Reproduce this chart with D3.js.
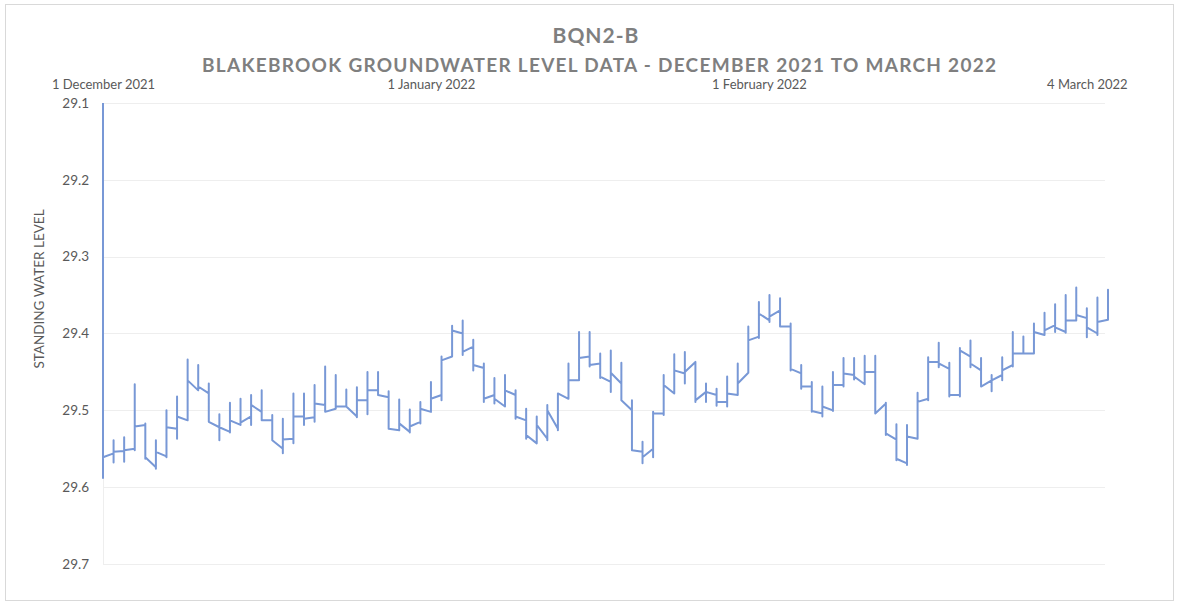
<!DOCTYPE html>
<html>
<head>
<meta charset="utf-8">
<script src="https://cdn.jsdelivr.net/npm/d3@7"></script>
<style>
  html, body { margin: 0; padding: 0; background: #ffffff; }
  svg { display: block; }
</style>
</head>
<body>
<svg id="chart" width="1185" height="607"></svg>
<script>
// ---------------- DATA ----------------
const titleMain = "BQN2-B";
const titleSub = "BLAKEBROOK GROUNDWATER LEVEL DATA - DECEMBER 2021 TO MARCH 2022";
const yAxisTitle = "STANDING WATER LEVEL";
const startDate = new Date(2021, 11, 1);   // 1 December 2021, one reading per day
const endDate = new Date(2022, 2, 6);

const dateTickValues = [new Date(2021, 11, 1), new Date(2022, 0, 1), new Date(2022, 1, 1), new Date(2022, 2, 4)];
const dateTickLabels = ["1 December 2021", "1 January 2022", "1 February 2022", "4 March 2022"];
const levelTicks = [29.1, 29.2, 29.3, 29.4, 29.5, 29.6, 29.7];

// per day: level arriving, spike high (smallest value), spike low (largest value), level leaving
const levelIn = [
  29.100, 29.556, 29.553, 29.550, 29.519, 29.574, 29.560, 29.524, 29.513, 29.474,
  29.478, 29.522, 29.528, 29.519, 29.508, 29.502, 29.513, 29.550, 29.537, 29.508,
  29.509, 29.493, 29.498, 29.495, 29.508, 29.487, 29.474, 29.483, 29.526, 29.528,
  29.515, 29.502, 29.480, 29.430, 29.400, 29.417, 29.445, 29.480, 29.495, 29.480,
  29.513, 29.543, 29.537, 29.524, 29.485, 29.461, 29.430, 29.439, 29.463, 29.465,
  29.500, 29.554, 29.550, 29.504, 29.478, 29.452, 29.437, 29.476, 29.480, 29.489,
  29.480, 29.451, 29.404, 29.383, 29.370, 29.391, 29.452, 29.469, 29.504, 29.500,
  29.467, 29.454, 29.466, 29.450, 29.491, 29.538, 29.569, 29.537, 29.485, 29.437,
  29.446, 29.480, 29.430, 29.448, 29.461, 29.454, 29.441, 29.426, 29.426, 29.402,
  29.389, 29.398, 29.383, 29.380, 29.400, 29.382
];
const spikeHigh = [
  29.100, 29.539, 29.535, 29.466, 29.517, 29.539, 29.500, 29.482, 29.434, 29.441,
  29.465, 29.505, 29.490, 29.485, 29.480, 29.474, 29.506, 29.511, 29.478, 29.478,
  29.467, 29.443, 29.454, 29.473, 29.470, 29.450, 29.450, 29.475, 29.486, 29.499,
  29.489, 29.463, 29.430, 29.390, 29.383, 29.408, 29.439, 29.458, 29.454, 29.474,
  29.498, 29.508, 29.493, 29.478, 29.439, 29.398, 29.398, 29.426, 29.422, 29.438,
  29.487, 29.541, 29.502, 29.454, 29.427, 29.424, 29.437, 29.465, 29.472, 29.456,
  29.439, 29.391, 29.359, 29.350, 29.354, 29.387, 29.441, 29.463, 29.469, 29.450,
  29.432, 29.432, 29.429, 29.429, 29.490, 29.518, 29.519, 29.477, 29.431, 29.412,
  29.438, 29.419, 29.409, 29.432, 29.454, 29.431, 29.398, 29.404, 29.387, 29.373,
  29.362, 29.350, 29.340, 29.367, 29.353, 29.343
];
const spikeLow = [
  29.588, 29.568, 29.567, 29.552, 29.563, 29.576, 29.561, 29.537, 29.513, 29.474,
  29.515, 29.539, 29.529, 29.519, 29.519, 29.513, 29.539, 29.556, 29.543, 29.519,
  29.515, 29.502, 29.498, 29.495, 29.509, 29.505, 29.480, 29.524, 29.526, 29.529,
  29.517, 29.500, 29.487, 29.430, 29.428, 29.448, 29.489, 29.491, 29.495, 29.511,
  29.537, 29.543, 29.539, 29.526, 29.485, 29.461, 29.443, 29.458, 29.476, 29.487,
  29.552, 29.569, 29.561, 29.506, 29.478, 29.465, 29.489, 29.489, 29.494, 29.495,
  29.480, 29.451, 29.406, 29.385, 29.391, 29.448, 29.472, 29.502, 29.508, 29.501,
  29.469, 29.460, 29.466, 29.504, 29.532, 29.565, 29.571, 29.537, 29.487, 29.444,
  29.482, 29.482, 29.444, 29.469, 29.475, 29.461, 29.443, 29.426, 29.426, 29.402,
  29.398, 29.399, 29.383, 29.405, 29.402, 29.382
];
const levelOut = [
  29.561, 29.554, 29.552, 29.521, 29.561, 29.554, 29.522, 29.508, 29.461, 29.469,
  29.515, 29.522, 29.513, 29.516, 29.493, 29.513, 29.539, 29.538, 29.508, 29.511,
  29.491, 29.502, 29.495, 29.495, 29.487, 29.474, 29.480, 29.524, 29.517, 29.521,
  29.498, 29.485, 29.435, 29.396, 29.424, 29.441, 29.485, 29.485, 29.474, 29.508,
  29.532, 29.519, 29.500, 29.478, 29.461, 29.432, 29.441, 29.456, 29.451, 29.487,
  29.552, 29.561, 29.504, 29.467, 29.448, 29.450, 29.487, 29.476, 29.489, 29.478,
  29.465, 29.409, 29.374, 29.378, 29.391, 29.446, 29.469, 29.501, 29.495, 29.467,
  29.452, 29.456, 29.450, 29.504, 29.530, 29.563, 29.534, 29.489, 29.437, 29.439,
  29.480, 29.422, 29.439, 29.469, 29.461, 29.448, 29.426, 29.426, 29.398, 29.396,
  29.392, 29.383, 29.376, 29.392, 29.385, 29.343
];

// ---------------- CHART ----------------
const svg = d3.select("#chart");
const plot = { left: 103, right: 1108, top: 103, bottom: 564 };
const textColor = "#595959";
const lineColor = "#7898d6";
const fontFamily = "Lato, 'Open Sans', sans-serif";

// outer chart border
svg.append("rect")
  .attr("x", 5.5).attr("y", 4.5)
  .attr("width", 1168).attr("height", 596)
  .attr("fill", "#ffffff")
  .attr("stroke", "#d9d9d9").attr("stroke-width", 1);

const x = d3.scaleTime().domain([startDate, endDate]).range([plot.left, plot.right]);
const y = d3.scaleLinear().domain([29.1, 29.7]).range([plot.top, plot.bottom]);

// gridlines
svg.append("g")
  .selectAll("line")
  .data(levelTicks)
  .join("line")
  .attr("x1", plot.left).attr("x2", 1105)
  .attr("y1", d => Math.round(y(d)) + 0.5).attr("y2", d => Math.round(y(d)) + 0.5)
  .attr("stroke", "#eeeeee").attr("stroke-width", 1);

// left axis line (faint)
svg.append("line")
  .attr("x1", plot.left + 0.5).attr("x2", plot.left + 0.5)
  .attr("y1", plot.top).attr("y2", plot.bottom)
  .attr("stroke", "#eeeeee");

// y axis
const yAxis = svg.append("g")
  .attr("transform", `translate(${plot.left},0)`)
  .call(d3.axisLeft(y).tickValues(levelTicks).tickFormat(d3.format(".1f")).tickSize(0).tickPadding(14));
yAxis.select(".domain").remove();
yAxis.selectAll("text")
  .attr("fill", textColor)
  .style("font-family", fontFamily)
  .style("font-size", "13.5px");

// x axis (top)
const xAxis = svg.append("g")
  .attr("transform", `translate(0,92)`)
  .call(d3.axisTop(x).tickValues(dateTickValues)
    .tickFormat((d, i) => dateTickLabels[i]).tickSize(0).tickPadding(3));
xAxis.select(".domain").remove();
xAxis.selectAll("text")
  .attr("fill", textColor)
  .style("font-family", fontFamily)
  .style("font-size", "13px");

// titles
svg.append("text")
  .attr("x", 596).attr("y", 43)
  .attr("text-anchor", "middle")
  .attr("fill", "#7f7f7f")
  .style("font-family", fontFamily)
  .style("font-weight", "bold")
  .style("font-size", "21px")
  .style("letter-spacing", "1px")
  .text(titleMain);

svg.append("text")
  .attr("x", 202).attr("y", 72)
  .attr("textLength", 794)
  .attr("lengthAdjust", "spacing")
  .attr("fill", "#7f7f7f")
  .style("font-family", fontFamily)
  .style("font-weight", "bold")
  .style("font-size", "19px")
  .text(titleSub);

// y axis title
svg.append("text")
  .attr("transform", `translate(44,289) rotate(-90)`)
  .attr("text-anchor", "middle")
  .attr("fill", textColor)
  .style("font-family", fontFamily)
  .style("font-size", "13.5px")
  .text(yAxisTitle);

// data line
const points = [];
levelIn.forEach((v, i) => {
  const d = d3.timeDay.offset(startDate, i);
  points.push([d, levelIn[i]], [d, spikeHigh[i]], [d, spikeLow[i]], [d, levelOut[i]]);
});

svg.append("path")
  .datum(points)
  .attr("fill", "none")
  .attr("stroke", lineColor)
  .attr("stroke-width", 2)
  .attr("stroke-linejoin", "round")
  .attr("d", d3.line().x(d => x(d[0])).y(d => y(d[1])));
</script>
</body>
</html>
